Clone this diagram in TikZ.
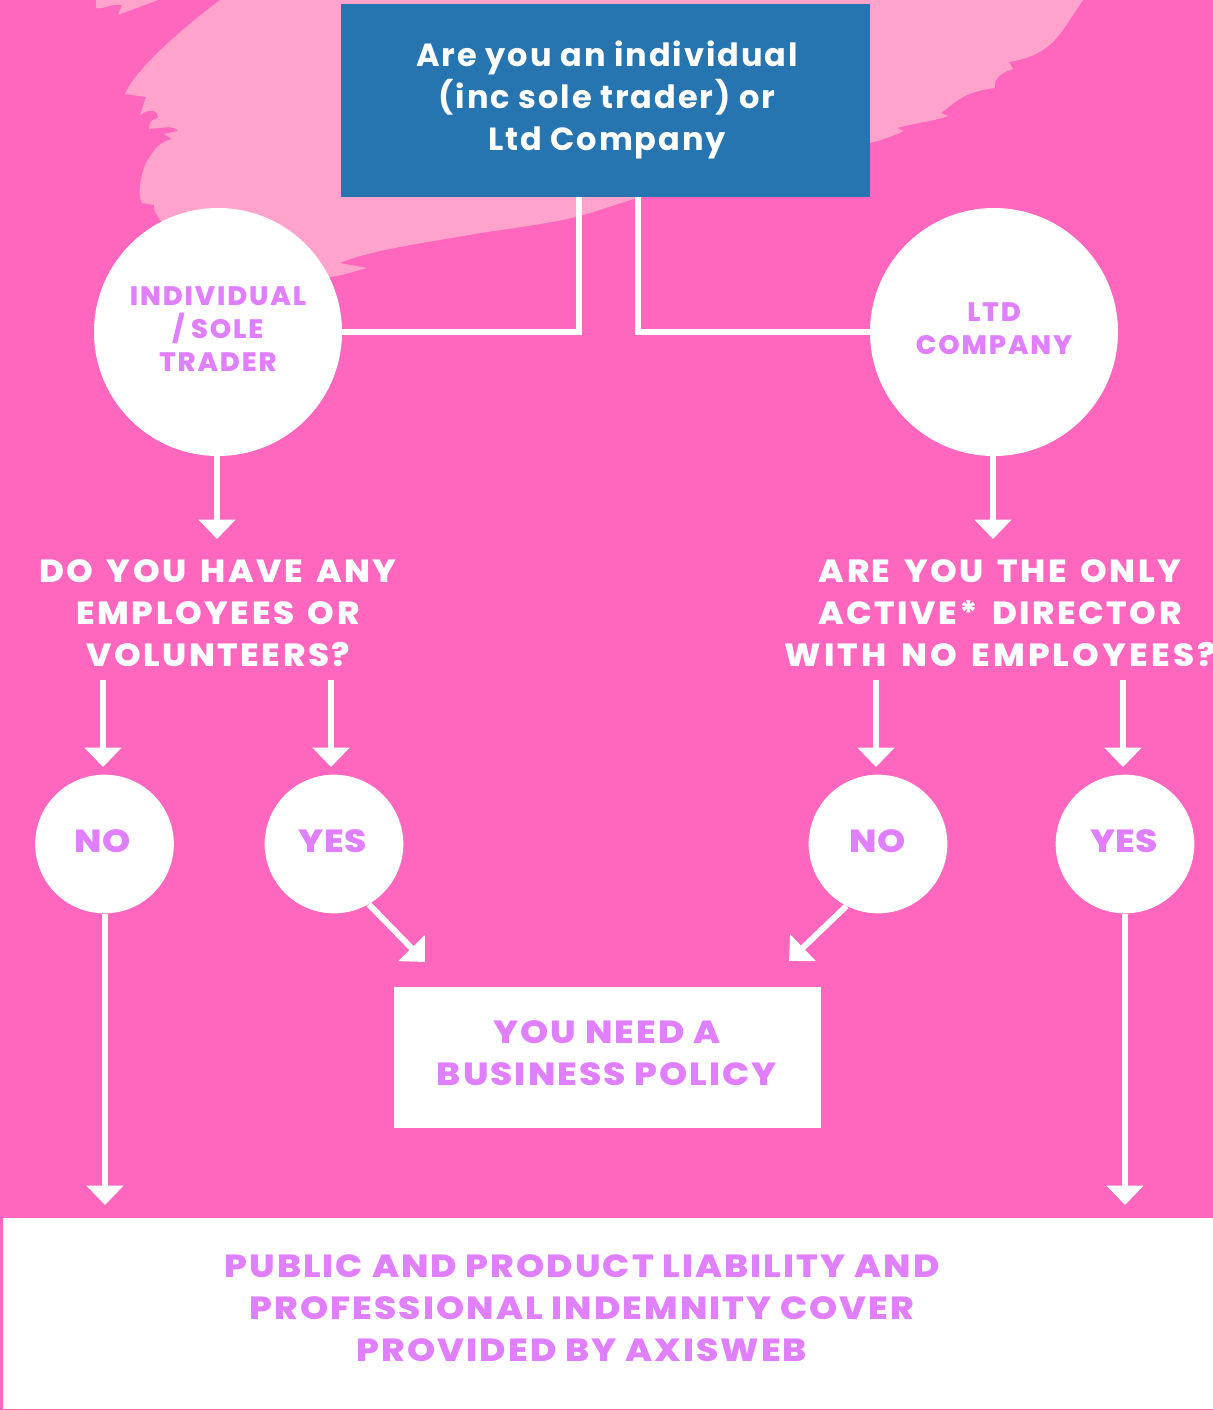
\documentclass[tikz,border=0pt]{standalone}
\usepackage{fontspec}
\setmainfont{Poppins}[BoldFont=* ExtraBold]
\newfontfamily\widefont{Poppins ExtraBold}[FakeStretch=1.12,LetterSpace=6.5]
\newfontfamily\smallfont{Poppins ExtraBold}[FakeStretch=1.12,LetterSpace=1.5]
\newfontfamily\qfont{Poppins ExtraBold}[FakeStretch=1.06,LetterSpace=8,WordSpace=1.5]
\newfontfamily\qfontwide{Poppins ExtraBold}[FakeStretch=1.06,LetterSpace=10,WordSpace=1.5]
\newfontfamily\discfont{Poppins ExtraBold}[FakeStretch=1.02,LetterSpace=7]
\newfontfamily\rootfont{Poppins}[BoldFont=* Bold,LetterSpace=6]
\usetikzlibrary{arrows.meta}
\definecolor{bgpink}{HTML}{FF66BD}
\definecolor{lightpink}{HTML}{FFA3CC}
\definecolor{rootblue}{HTML}{2674B0}
\definecolor{lilac}{HTML}{E07FFF}
\tikzset{
  x=0.75pt,y=-0.75pt,
  wire/.style={draw=white,line width=4.5pt},
  arr/.style={wire,-{Triangle[width=27pt,length=14.5pt]}},
  bluetxt/.style={text=white,font=\rootfont\bfseries\fontsize{24pt}{31.5pt}\selectfont,align=center,inner sep=0pt},
  qtxt/.style={text=white,font=\qfont\fontsize{24pt}{31.5pt}\selectfont,align=center,inner sep=0pt},
  qbox/.style={minimum width=10pt,minimum height=100.5pt,inner sep=0pt},
  bigdisc/.style={circle,fill=white,minimum size=186pt,inner sep=0pt},
  smalldisc/.style={circle,fill=white,minimum size=104pt,inner sep=0pt},
  disctxt/.style={inner sep=0pt,text=lilac,font=\discfont\fontsize{20pt}{24.75pt}\selectfont,align=center},
  answertxt/.style={inner sep=0pt,text=lilac,font=\widefont\fontsize{24pt}{31.5pt}\selectfont,align=center},
  shorttxt/.style={inner sep=0pt,text=lilac,font=\smallfont\fontsize{24pt}{31.5pt}\selectfont,align=center},
  whitebox/.style={fill=white,inner sep=0pt},
}
\begin{document}
\begin{tikzpicture}
\useasboundingbox (0,0) rectangle (1213,1410);
\clip (0,0) rectangle (1213,1410);
\fill[bgpink] (0,0) rectangle (1213,1410);
% brush stroke
\fill[lightpink] (220,0) .. controls (180,30) and (135,70) .. (125,94) -- (146,97) -- (140,115)
  .. controls (150,108) and (158,110) .. (158,118) .. controls (152,119) and (149,122) .. (149,129)
  .. controls (160,128) and (175,125) .. (178,131) -- (164,134) -- (172,139) .. controls (160,142) and (155,148) .. (150,157)
  .. controls (145,160) and (138,185) .. (140,197) -- (142,203) -- (154,205) .. controls (153,212) and (158,215) .. (160,220)
  -- (218,280) -- (330,277) .. controls (345,275) and (355,271) .. (367,268) -- (340,263)
  .. controls (370,250) and (430,242) .. (480,233) .. controls (530,226) and (570,220) .. (590,213)
  -- (640,197) -- (870,143) .. controls (882,140) and (893,136) .. (904,131) -- (897,128)
  .. controls (915,123) and (935,121) .. (948,116) -- (941,113) .. controls (955,103) and (962,92) .. (995,88)
  .. controls (993,78) and (1003,72) .. (1013,69) -- (1009,62) .. controls (1035,58) and (1050,48) .. (1063,30)
  -- (1083,0) -- cycle;
\fill[lightpink] (96,0) -- (96,8) .. controls (102,10) and (112,3) .. (122,5) -- (118,15) -- (158,0) -- cycle;
% nodes
\node[whitebox,fill=rootblue,minimum width=396.75pt,minimum height=144.75pt] (root) at (605.5,100.5) {};
\node[bluetxt] (roottxt) at (607,99.5) {Are you an individual\\(inc sole trader) or\\Ltd Company};
\node[bigdisc] (ind) at (218,332) {};
\node[disctxt] (indtxt) at (218,329.5) {INDIVIDUAL\\/ SOLE\\TRADER};
\node[bigdisc] (ltd) at (994,332) {};
\node[disctxt] (ltdtxt) at (994,328.5) {LTD\\COMPANY};
\node[qtxt] (q1txt) at (218,613.5) {DO YOU HAVE ANY\\EMPLOYEES OR\\VOLUNTEERS?};
\node[qtxt] (q2txt) at (1000,613.5) {ARE YOU THE ONLY\\ACTIVE* DIRECTOR\\{\qfontwide\fontsize{24pt}{31.5pt}\selectfont WITH NO EMPLOYEES?}};
\node[qbox] (q1) at (218,613) {};
\node[qbox] (q2) at (1000,613) {};
\node[smalldisc] (no1) at (104.5,844) {};
\node[shorttxt] (no1txt) at (103,841) {NO};
\node[smalldisc] (yes1) at (334,844) {};
\node[shorttxt] (yes1txt) at (332.5,841) {YES};
\node[smalldisc] (no2) at (878,844) {};
\node[shorttxt] (no2txt) at (878,841) {NO};
\node[smalldisc] (yes2) at (1125,844) {};
\node[shorttxt] (yes2txt) at (1124,841) {YES};
\node[whitebox,minimum width=320.25pt,minimum height=105.75pt] (need) at (607.5,1057.5) {};
\node[answertxt] (needtxt) at (607,1053.5) {YOU NEED A\\BUSINESS POLICY};
\node[whitebox,minimum width=907.5pt,minimum height=143.25pt] (cover) at (608,1313.5) {};
\node[answertxt] (covertxt) at (582,1308) {PUBLIC AND PRODUCT LIABILITY AND\\PROFESSIONAL INDEMNITY COVER\\PROVIDED BY AXISWEB};
% free ends
\coordinate (rl) at (579,197);
\coordinate (rr) at (638,197);
\coordinate (t1) at (217,539);
\coordinate (t2) at (993,539);
\coordinate (t3) at (103,767);
\coordinate (t4) at (331,767);
\coordinate (t5) at (876,767);
\coordinate (t6) at (1123,767);
\coordinate (t7) at (425,962);
\coordinate (t8) at (789,961);
\coordinate (t9) at (105,1205);
\coordinate (t10) at (1125,1205);
% connectors
\draw[wire] (rl) |- (ind.east);
\draw[wire] (rr) |- (ltd.west);
\draw[arr] (ind.south -| t1) -- (t1);
\draw[arr] (ltd.south -| t2) -- (t2);
\draw[arr] (q1.south -| t3) -- (t3);
\draw[arr] (q1.south -| t4) -- (t4);
\draw[arr] (q2.south -| t5) -- (t5);
\draw[arr] (q2.south -| t6) -- (t6);
\draw[arr] (yes1.-60) -- (t7);
\draw[arr] (no2.-117) -- (t8);
\draw[arr] (no1.south -| t9) -- (t9);
\draw[arr] (yes2.south -| t10) -- (t10);
\end{tikzpicture}
\end{document}
